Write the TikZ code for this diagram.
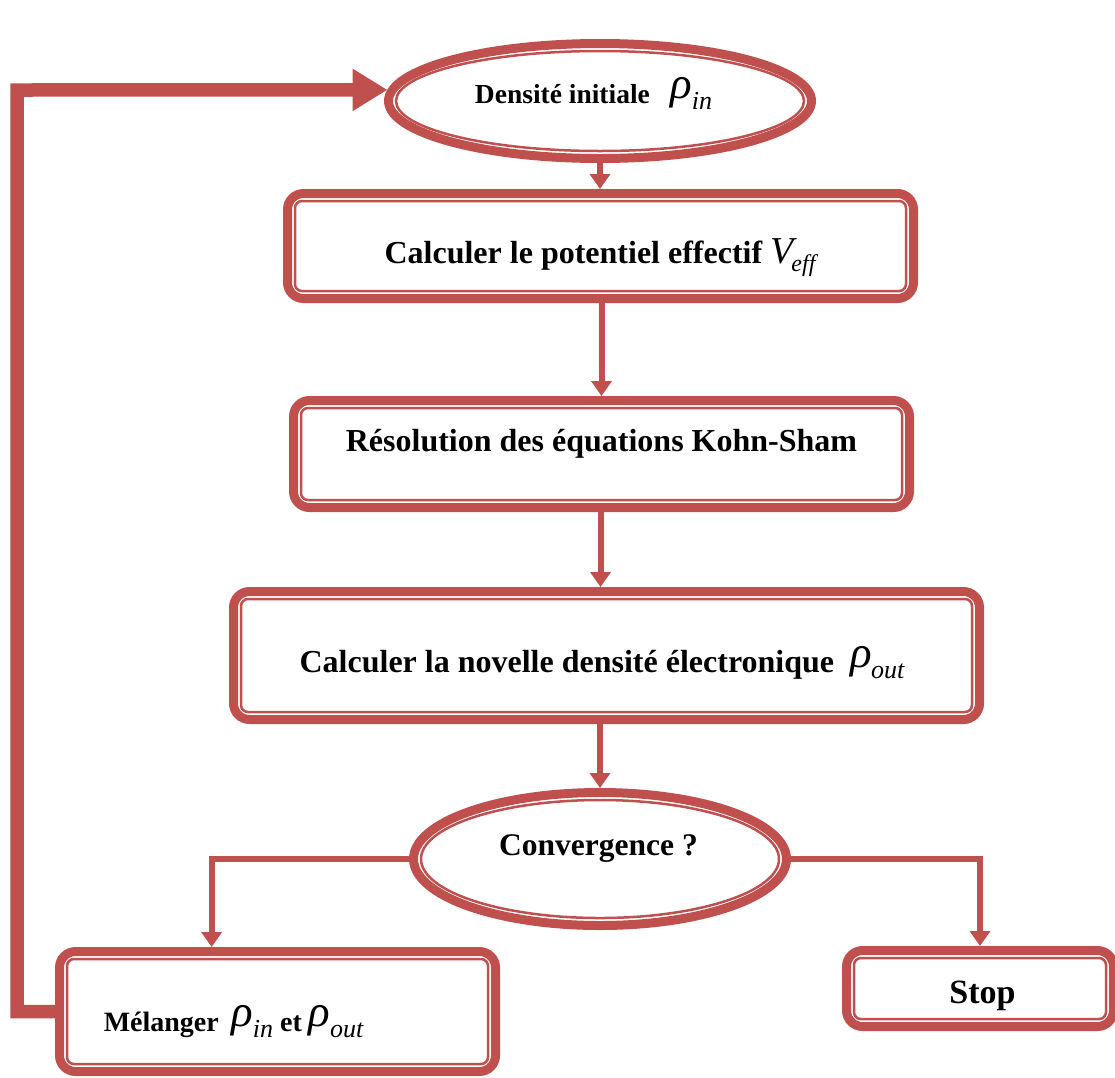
\documentclass[tikz,border=0pt]{standalone}
\usepackage{fontspec}
\setmainfont{Liberation Serif}
\usetikzlibrary{arrows.meta,calc,shapes.geometric}
\definecolor{acc}{HTML}{C0504D}
\newcommand\rsub[2]{\raisebox{5pt}{\fontsize{45}{45}\selectfont\mdseries\itshape #1}\kern-0.5pt\raisebox{-6pt}{\fontsize{26}{26}\selectfont\mdseries\itshape #2}}
\newcommand\innerframe[1]{\draw[innerline, rounded corners=7pt] ([shift={(12pt,-12pt)}]#1.north west) rectangle ([shift={(-12pt,12pt)}]#1.south east);}
\begin{document}
\begin{tikzpicture}[x=1pt,y=-1pt,
  shapeline/.style={draw=acc, line width=9pt, outer sep=4.5pt, fill=white},
  innerline/.style={draw=acc, line width=2.5pt},
  bx/.style={shapeline, rectangle, rounded corners=16pt, inner sep=0pt},
  ov/.style={shapeline, ellipse, inner sep=0pt},
  conn/.style={draw=acc, line width=6pt, -{Triangle[length=15pt,width=20pt]}},
  fbk/.style={draw=acc, line width=13.5pt, -{Triangle[length=35pt,width=40pt]}},
  lbl/.style={anchor=base, inner sep=0pt, text=black, font=\bfseries\fontsize{32}{36}\selectfont}
]
\useasboundingbox (0,0) rectangle (1115,1077);

% shapes
\node[ov, minimum width=423pt, minimum height=115pt] (e1) at (600,101) {};
\draw[innerline] (e1.center) ellipse [x radius=204pt, y radius=50pt];

\node[bx, minimum width=626pt, minimum height=105pt] (b2) at (600.5,246) {};
\innerframe{b2}
\node[bx, minimum width=616pt, minimum height=107pt] (b3) at (601.5,454) {};
\innerframe{b3}
\node[bx, minimum width=746pt, minimum height=128pt] (b4) at (606.5,655.5) {};
\innerframe{b4}

\node[ov, minimum width=373pt, minimum height=133pt] (e5) at (600,859) {};
\draw[innerline] (e5.center) ellipse [x radius=179pt, y radius=59pt];

\node[bx, minimum width=436pt, minimum height=120pt] (b6) at (277.5,1011.5) {};
\innerframe{b6}
\node[bx, minimum width=267pt, minimum height=76pt] (b7) at (980,988.5) {};
\innerframe{b7}

% texts
\node[lbl, font=\bfseries\fontsize{27.5}{30}\selectfont] (t1) at (593.5,103) {Densité initiale\hspace{14pt} \rsub{ρ}{in}};
\node[lbl] (t2) at (600,263) {Calculer le potentiel effectif \raisebox{0pt}{\fontsize{38}{38}\selectfont\mdseries\itshape V}\kern-2pt\raisebox{-8pt}{\fontsize{24}{24}\selectfont\mdseries\itshape eff}};
\node[lbl] (t3) at (601.5,451) {Résolution des équations Kohn-Sham};
\node[lbl] (t4) at (602,672) {Calculer la novelle densité électronique\hspace{8pt} \rsub{ρ}{out}};
\node[lbl, font=\bfseries\fontsize{31.5}{34}\selectfont] (t5) at (598.5,855) {Convergence ?};
\node[lbl, font=\bfseries\fontsize{28}{30}\selectfont] (t6) at (233.5,1031) {Mélanger\hspace{6pt} \rsub{ρ}{in} et \rsub{ρ}{out}};
\node[lbl, font=\bfseries\fontsize{34}{36}\selectfont] (t7) at (982.5,1003) {Stop};

% connectors
\draw[conn] (e1.south) -- (e1.south |- b2.north);
\draw[conn] (b3.north |- b2.south) -- (b3.north);
\draw[conn] (b2.south |- b3.south) -- (b2.south |- b4.north);
\draw[conn] (e5.north |- b4.south) -- (e5.north);
\draw[conn] (e5.west) -| ($(b6.north west)!0.352!(b6.north east)$);
\draw[conn] (e5.east) -| (b7.north);
\coordinate (fb) at (17,90);
\draw[fbk] (b6.west) -| (fb) -- (e1.177);
\end{tikzpicture}
\end{document}
